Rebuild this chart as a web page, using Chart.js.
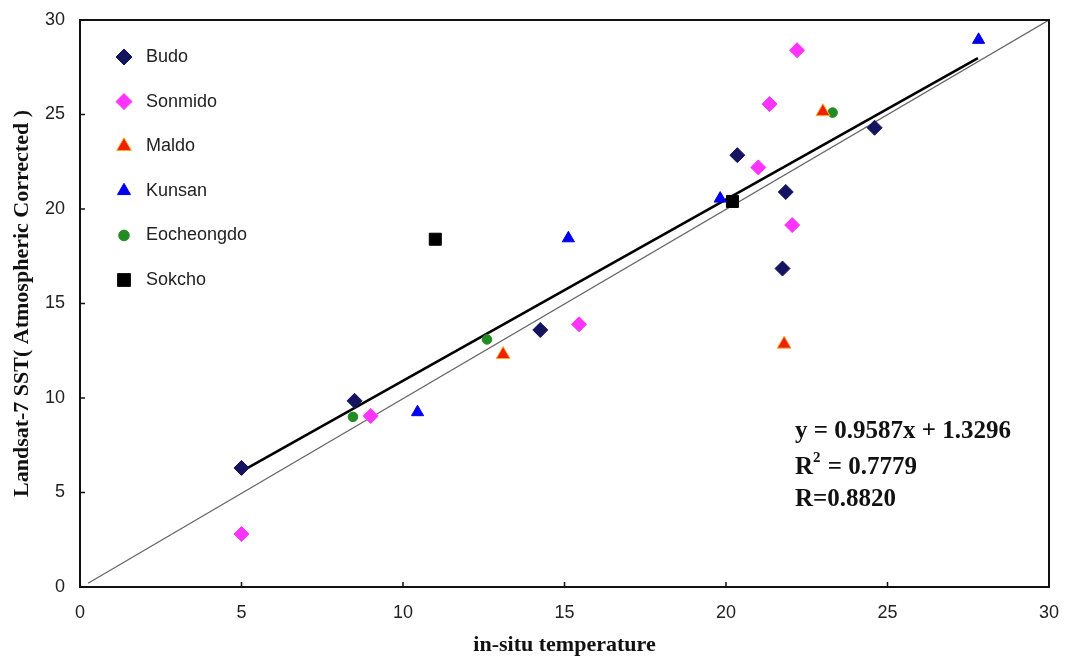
<!DOCTYPE html>
<html>
<head>
<meta charset="utf-8">
<script src="https://cdn.jsdelivr.net/npm/chart.js@4.4.1/dist/chart.umd.min.js"></script>
<style>
  html, body { margin: 0; padding: 0; background: #fff; }
  #wrap { width: 1066px; height: 659px; position: relative; }
</style>
</head>
<body>
<div id="wrap"><canvas id="sstChart"></canvas></div>
<script>
// values (in-situ temperature vs Landsat-7 SST)
const budoX = [5.0, 8.5, 14.25, 20.35, 21.85, 21.75, 24.6];
const budoY = [6.3, 9.85, 13.6, 22.85, 20.9, 16.85, 24.3];
const sonmidoX = [5.0, 9.0, 15.45, 21.35, 22.2, 21.0, 22.05];
const sonmidoY = [2.8, 9.05, 13.9, 25.55, 28.4, 22.2, 19.15];
const maldoX = [13.1, 23.0, 21.8];
const maldoY = [12.3, 25.15, 12.85];
const kunsanX = [10.45, 15.12, 19.82, 27.82];
const kunsanY = [9.25, 18.45, 20.55, 28.95];
const eochX = [8.45, 12.6, 23.3];
const eochY = [9.0, 13.1, 25.1];
const sokchoX = [11.0, 20.2];
const sokchoY = [18.4, 20.4];

const trendX = [5.0, 27.8];
const trendY = [6.12, 27.98];
const diagX = [0.25, 30];
const diagY = [0.2, 30];

const xTicks = [0, 5, 10, 15, 20, 25, 30];
const yTicks = [0, 5, 10, 15, 20, 25, 30];

const eqLines = ["y = 0.9587x + 1.3296", "R", "2", " = 0.7779", "R=0.8820"];

const pts = (xs, ys) => xs.map((v, i) => ({ x: v, y: ys[i] }));

// keep the plot box where the layout padding puts it
function noOverhang(s) {
  s.paddingLeft = 0;
  s.paddingRight = 0;
  s.paddingTop = 0;
  s.paddingBottom = 0;
}

const overlay = {
  id: "overlay",
  afterDraw(chart) {
    const { ctx, chartArea: a, scales } = chart;
    ctx.save();

    // frame round the plot
    ctx.strokeStyle = "#111";
    ctx.lineWidth = 2;
    ctx.strokeRect(a.left, a.top, a.right - a.left, a.bottom - a.top);

    // small ticks pointing inward
    ctx.lineWidth = 1.5;
    ctx.beginPath();
    scales.x.ticks.forEach(t => {
      const px = scales.x.getPixelForValue(t.value);
      ctx.moveTo(px, a.bottom);
      ctx.lineTo(px, a.bottom - 5);
    });
    scales.y.ticks.forEach(t => {
      const py = scales.y.getPixelForValue(t.value);
      ctx.moveTo(a.left, py);
      ctx.lineTo(a.left + 5, py);
    });
    ctx.stroke();

    // legend inside the plot
    ctx.font = '18px "Liberation Sans", Arial, sans-serif';
    ctx.textBaseline = "middle";
    ctx.textAlign = "left";
    for (let i = 0; i < 6; i++) {
      const ds = chart.data.datasets[i];
      const yy = a.top + 37 + i * 44.6;
      ctx.fillStyle = ds.backgroundColor;
      ctx.strokeStyle = ds.borderColor;
      ctx.lineWidth = ds.borderWidth;
      Chart.helpers.drawPoint(ctx, {
        pointStyle: ds.pointStyle,
        radius: ds.pointRadius + 0.5,
        borderWidth: ds.borderWidth,
        rotation: 0
      }, a.left + 44, yy);
      ctx.fillStyle = "#222";
      ctx.fillText(ds.label, a.left + 66, yy);
    }

    // regression text
    const ex = a.left + 715;
    ctx.fillStyle = "#111";
    ctx.textBaseline = "alphabetic";
    ctx.font = 'bold 25px "Liberation Serif", "Times New Roman", serif';
    ctx.fillText(eqLines[0], ex, 438);
    ctx.fillText(eqLines[1], ex, 474);
    const rw = ctx.measureText(eqLines[1]).width;
    ctx.font = 'bold 15px "Liberation Serif", "Times New Roman", serif';
    ctx.fillText(eqLines[2], ex + rw, 462);
    const sw = ctx.measureText(eqLines[2]).width;
    ctx.font = 'bold 25px "Liberation Serif", "Times New Roman", serif';
    ctx.fillText(eqLines[3], ex + rw + sw + 1, 474);
    ctx.fillText(eqLines[4], ex, 506);

    ctx.restore();
  }
};

const ctxChart = document.getElementById("sstChart").getContext("2d");

const chart = new Chart(ctxChart, {
  type: "scatter",
  data: {
    datasets: [
      {
        label: "Budo",
        data: pts(budoX, budoY),
        pointStyle: "rectRot",
        pointRadius: 7.5,
        backgroundColor: "#14145f",
        borderColor: "#14145f",
        borderWidth: 1,
      },
      {
        label: "Sonmido",
        data: pts(sonmidoX, sonmidoY),
        pointStyle: "rectRot",
        pointRadius: 7.5,
        backgroundColor: "#ff33ff",
        borderColor: "#ff33ff",
        borderWidth: 1,
      },
      {
        label: "Maldo",
        data: pts(maldoX, maldoY),
        pointStyle: "triangle",
        pointRadius: 8,
        backgroundColor: "#ee2200",
        borderColor: "#ffaa33",
        borderWidth: 1,
      },
      {
        label: "Kunsan",
        data: pts(kunsanX, kunsanY),
        pointStyle: "triangle",
        pointRadius: 7,
        backgroundColor: "#0000ee",
        borderColor: "#0000ee",
        borderWidth: 1,
      },
      {
        label: "Eocheongdo",
        data: pts(eochX, eochY),
        pointStyle: "circle",
        pointRadius: 4.8,
        backgroundColor: "#228b22",
        borderColor: "#228b22",
        borderWidth: 1,
      },
      {
        label: "Sokcho",
        data: pts(sokchoX, sokchoY),
        pointStyle: "rect",
        pointRadius: 8.5,
        backgroundColor: "#000",
        borderColor: "#000",
        borderWidth: 1,
      },
      {
        label: "trend",
        data: pts(trendX, trendY),
        showLine: true,
        borderColor: "#000",
        borderWidth: 2.6,
        pointRadius: 0,
      },
      {
        label: "1:1",
        data: pts(diagX, diagY),
        showLine: true,
        borderColor: "#666",
        borderWidth: 1.3,
        pointRadius: 0,
      },
    ],
  },
  options: {
    responsive: true,
    maintainAspectRatio: false,
    animation: false,
    events: [],
    layout: { padding: { top: 20, right: 17, left: 0, bottom: 0 } },
    plugins: { legend: { display: false }, tooltip: { enabled: false } },
    scales: {
      x: {
        type: "linear",
        min: 0,
        max: 30,
        afterBuildTicks: s => { s.ticks = xTicks.map(v => ({ value: v })); },
        afterFit: s => { s.height = 72; noOverhang(s); },
        grid: { display: false, drawTicks: false },
        border: { display: false },
        ticks: {
          padding: 15,
          color: "#222",
          font: { family: '"Liberation Sans", Arial, sans-serif', size: 18 },
        },
        title: {
          display: true,
          text: "in-situ temperature",
          color: "#111",
          padding: { top: 0, bottom: 0 },
          font: { family: '"Liberation Serif", "Times New Roman", serif', size: 22, weight: "bold" },
        },
      },
      y: {
        type: "linear",
        min: 0,
        max: 30,
        afterBuildTicks: s => { s.ticks = yTicks.map(v => ({ value: v })); },
        afterFit: s => { s.width = 80; noOverhang(s); },
        grid: { display: false, drawTicks: false },
        border: { display: false },
        ticks: {
          padding: 15,
          color: "#222",
          font: { family: '"Liberation Sans", Arial, sans-serif', size: 18 },
        },
        title: {
          display: true,
          text: "Landsat-7 SST( Atmospheric Corrected )",
          color: "#111",
          padding: { top: 9, bottom: 9 },
          font: { family: '"Liberation Serif", "Times New Roman", serif', size: 22, weight: "bold" },
        },
      },
    },
  },
  plugins: [overlay],
});
</script>
</body>
</html>
